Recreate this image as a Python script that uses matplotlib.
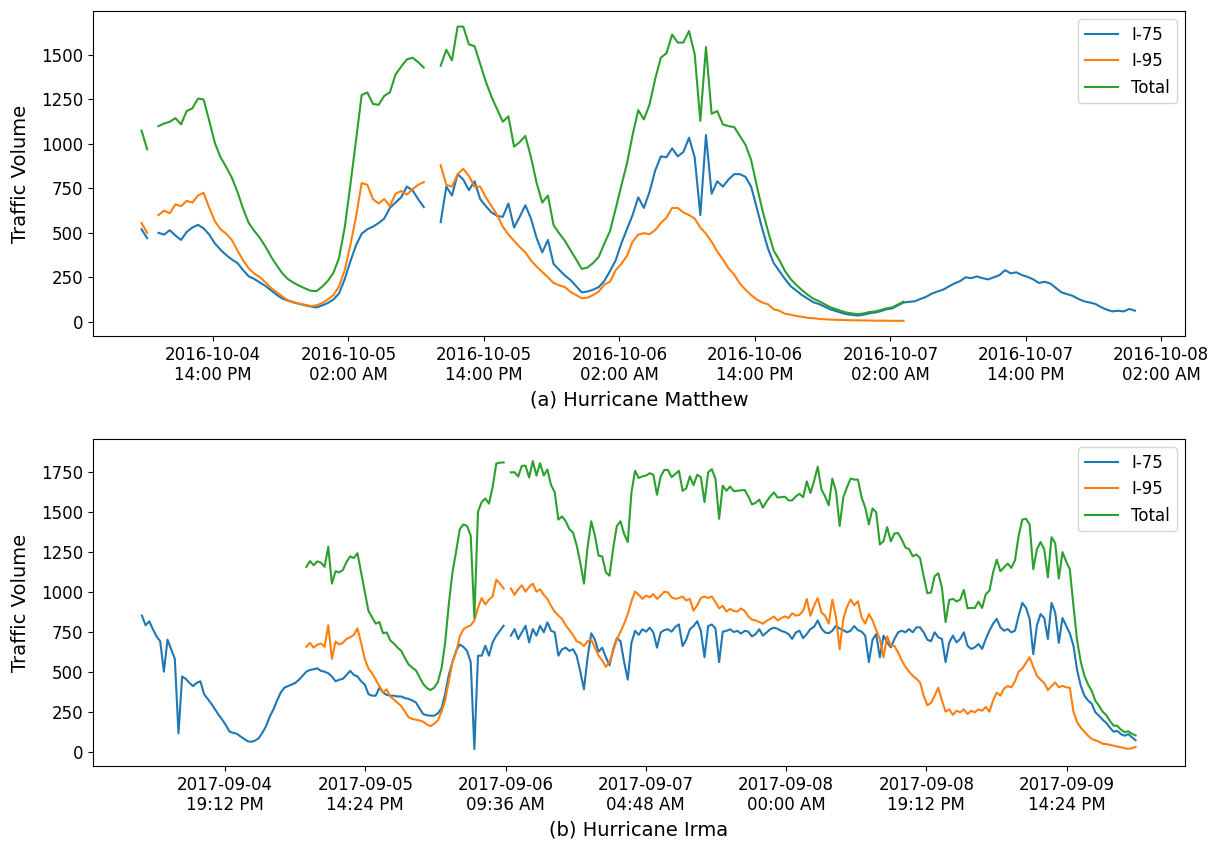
import numpy as np
import pandas as pd
import matplotlib
matplotlib.use('Agg')
import matplotlib.pyplot as plt
import matplotlib.dates as mdates

nan = np.nan

# Hurricane Matthew, 30 min counts
matthew_start = '2016-10-04 07:40'
matthew_i75 = [
    520, 470, nan, 500, 490, 515, 485, 460, 505, 530,
    545, 525, 490, 440, 405, 375, 350, 330, 290, 255,
    240, 220, 200, 175, 150, 130, 118, 108, 100, 92,
    86, 80, 92, 105, 125, 160, 240, 340, 430, 495,
    520, 535, 555, 580, 640, 670, 700, 760, 740, 690,
    645, nan, nan, 560, 760, 710, 830, 800, 740, 790,
    690, 650, 615, 595, 590, 665, 530, 590, 655, 580,
    470, 390, 460, 325, 292, 260, 235, 200, 165, 170,
    180, 195, 230, 285, 345, 440, 520, 600, 700, 640,
    730, 850, 930, 925, 975, 930, 955, 1035, 925, 600,
    1050, 720, 790, 760, 800, 830, 830, 815, 760, 640,
    520, 410, 330, 285, 240, 200, 175, 150, 130, 110,
    100, 85, 70, 60, 50, 42, 38, 35, 40, 48,
    52, 60, 70, 75, 92, 108, 112, 115, 128, 140,
    158, 170, 180, 198, 215, 228, 250, 245, 255, 245,
    238, 250, 262, 290, 272, 278, 262, 252, 238, 218,
    225, 215, 190, 165, 155, 145, 128, 115, 108, 100,
    82, 68, 58, 62, 58, 72, 62,
]
matthew_i95 = [
    555, 500, nan, 600, 625, 610, 660, 650, 680, 670,
    710, 725, 640, 565, 520, 495, 460, 400, 345, 300,
    270, 250, 220, 188, 165, 140, 120, 110, 102, 95,
    88, 92, 105, 125, 150, 200, 290, 430, 590, 780,
    770, 690, 665, 690, 650, 720, 735, 715, 745, 770,
    785, nan, nan, 880, 770, 760, 830, 860, 820, 760,
    760, 700, 650, 600, 535, 490, 455, 420, 390, 345,
    310, 280, 250, 218, 205, 195, 168, 150, 132, 135,
    150, 170, 210, 225, 290, 325, 370, 450, 490, 498,
    492, 515, 555, 585, 640, 640, 615, 600, 580, 530,
    495, 450, 395, 350, 300, 265, 215, 180, 150, 125,
    108, 98, 70, 62, 45, 40, 32, 28, 22, 20,
    16, 14, 12, 11, 10, 9, 8, 8, 7, 7,
    6, 6, 6, 5, 5, 5,
]

# Hurricane Irma, 30 min counts
irma_start = '2017-09-04 07:50'
irma_i95_start = '2017-09-05 06:20'
irma_i75 = [
    850, 790, 815, 765, 720, 690, 500, 700, 640, 580,
    115, 470, 455, 430, 410, 430, 440, 360, 330, 300,
    265, 230, 200, 165, 125, 118, 112, 95, 80, 65,
    62, 70, 85, 120, 160, 220, 265, 320, 370, 400,
    410, 420, 430, 450, 475, 500, 511, 515, 521, 505,
    500, 490, 470, 440, 450, 455, 480, 505, 480, 470,
    440, 420, 360, 350, 350, 400, 370, 355, 350, 350,
    345, 345, 335, 330, 320, 308, 270, 235, 228, 225,
    225, 240, 270, 360, 480, 560, 630, 670, 655, 630,
    560, 17, 600, 600, 662, 600, 683, 725, 756, 787,
    nan, 725, 766, 704, 746, 787, 683, 766, 725, 787,
    746, 808, 756, 746, 600, 640, 650, 630, 640, 600,
    500, 390, 590, 740, 700, 625, 650, 590, 540, 640,
    710, 690, 560, 450, 680, 755, 730, 765, 750, 775,
    745, 650, 745, 760, 765, 750, 780, 795, 660, 700,
    765, 785, 815, 755, 590, 785, 795, 770, 560, 750,
    755, 765, 748, 755, 738, 755, 750, 720, 735, 765,
    725, 745, 765, 775, 768, 755, 748, 735, 705, 745,
    756, 710, 735, 766, 780, 820, 770, 745, 740, 756,
    787, 770, 760, 746, 756, 785, 760, 750, 725, 560,
    700, 735, 590, 725, 683, 652, 704, 746, 756, 746,
    766, 746, 777, 777, 746, 700, 690, 746, 715, 704,
    560, 683, 725, 683, 704, 746, 662, 642, 652, 673,
    642, 704, 756, 800, 830, 777, 756, 766, 746, 756,
    850, 930, 900, 830, 610, 790, 860, 835, 704, 930,
    870, 680, 835, 787, 740, 662, 510, 412, 350, 320,
    300, 246, 225, 200, 180, 150, 125, 130, 110, 100,
    110, 90, 72,
]
irma_i95 = [
    655, 680, 650, 668, 676, 655, 790, 580, 688, 670,
    680, 705, 715, 730, 770, 680, 580, 520, 490, 450,
    410, 370, 390, 345, 325, 305, 285, 250, 215, 205,
    200, 195, 188, 170, 160, 175, 195, 250, 320, 440,
    560, 620, 720, 765, 780, 790, 820, 900, 960, 920,
    950, 970, 1075, 1050, 1020, nan, 1020, 980, 1015, 1040,
    1000, 1030, 1050, 1000, 1015, 980, 955, 910, 875, 850,
    830, 790, 760, 730, 690, 680, 660, 690, 700, 650,
    600, 570, 530, 560, 630, 700, 750, 800, 860, 940,
    1000, 980, 955, 975, 965, 985, 955, 975, 1000, 995,
    965, 955, 960, 970, 945, 955, 880, 915, 960, 970,
    960, 970, 935, 895, 912, 875, 892, 880, 875, 895,
    880, 845, 825, 820, 810, 800, 818, 830, 845, 820,
    835, 845, 835, 865, 850, 855, 880, 954, 850, 912,
    960, 870, 850, 800, 950, 840, 640, 830, 905, 950,
    915, 940, 840, 800, 860, 820, 760, 705, 590, 720,
    662, 660, 620, 570, 530, 500, 475, 455, 433, 350,
    290, 305, 350, 400, 320, 250, 265, 230, 256, 246,
    265, 235, 256, 246, 265, 256, 280, 250, 320, 370,
    350, 395, 410, 402, 440, 500, 520, 555, 590, 530,
    475, 450, 430, 385, 410, 433, 402, 412, 402, 400,
    250, 185, 150, 125, 100, 80, 72, 62, 50, 48,
    42, 38, 32, 28, 22, 18, 22, 30,
]


def to_series(start, values):
    idx = pd.date_range(start, periods=len(values), freq='30min')
    return pd.Series(values, index=idx, dtype=float)


def draw(ax, s75, s95, xlabel, xlim, ylim, yticks):
    total = s75.add(s95)
    ax.plot(s75.index, s75.values, label='I-75')
    ax.plot(s95.index, s95.values, label='I-95')
    ax.plot(total.index, total.values, label='Total')
    ax.set_xlim(pd.Timestamp(xlim[0]), pd.Timestamp(xlim[1]))
    ax.set_ylim(*ylim)
    ax.set_yticks(yticks)
    ax.xaxis.set_major_formatter(mdates.DateFormatter('%Y-%m-%d\n%H:%M %p'))
    ax.tick_params(labelsize=12)
    ax.set_ylabel('Traffic Volume', fontsize=14, labelpad=8)
    ax.set_xlabel(xlabel, fontsize=14)
    ax.legend(loc='upper right', fontsize=12)


fig = plt.figure(figsize=(12.14, 8.42), dpi=100)
ax1 = fig.add_axes([0.0766, 0.601, 0.8995, 0.386])
ax2 = fig.add_axes([0.0766, 0.0903, 0.8995, 0.3884])

draw(ax1, to_series(matthew_start, matthew_i75), to_series(matthew_start, matthew_i95),
     '(a) Hurricane Matthew', ('2016-10-04 03:22', '2016-10-08 04:06'),
     (-80, 1748), np.arange(0, 1501, 250))
ax1.xaxis.set_major_locator(mdates.HourLocator(byhour=[2, 14]))

draw(ax2, to_series(irma_start, irma_i75), to_series(irma_i95_start, irma_i95),
     '(b) Hurricane Irma', ('2017-09-04 01:08', '2017-09-10 06:36'),
     (-89, 1954), np.arange(0, 1751, 250))
ax2.set_xticks(pd.date_range('2017-09-04 19:12', periods=7, freq='1152min'))
ax2.xaxis.set_major_formatter(mdates.DateFormatter('%Y-%m-%d\n%H:%M %p'))

fig.savefig('out.png', dpi=100)
